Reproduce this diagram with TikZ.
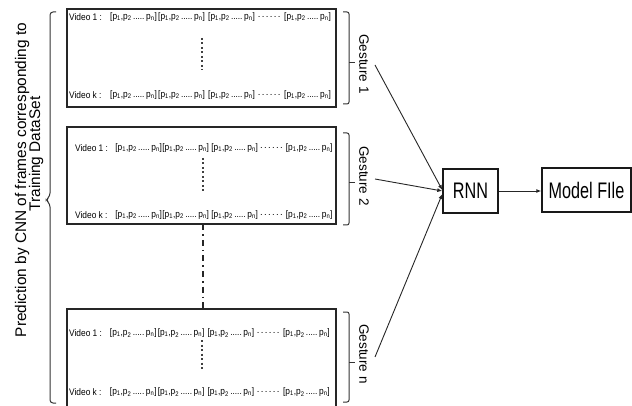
\documentclass[tikz,border=0pt]{standalone}
\usepackage{fontspec}
\setmainfont{Liberation Sans}
\usetikzlibrary{arrows.meta}

% one prediction vector [p1,p2 ... pn], fixed width, slightly condensed
\newcommand\pgroup{\scalebox{0.88}[1]{\hbox to 53pt{[p\textsubscript{1},p\textsubscript{2}\leaders\hbox to 2.6pt{\hss.\hss}\hfill p\textsubscript{n}]}}}
% dotted gap between the third and the last vector
\newcommand\pgap{\hbox to 24pt{\leaders\hbox to 4pt{\hss.\hss}\hfill}}

% one row of a gesture box: name, left x, y, label, spacing factor
\newcommand\vrow[5]{%
  \node[rowtxt] (#1-lab) at (#2,#3) {\scalebox{0.88}[1]{#4}};
  \node[rowtxt] (#1-a) at ({#2+41*#5},#3) {\pgroup};
  \node[rowtxt] (#1-b) at ({#2+89*#5},#3) {\pgroup};
  \node[rowtxt] (#1-c) at ({#2+139*#5},#3) {\pgroup};
  \node[rowtxt] (#1-d) at ({#2+188*#5},#3) {\pgap};
  \node[rowtxt] (#1-e) at ({#2+215*#5},#3) {\pgroup};
}

\tikzset{
  gbox/.style={draw=black!85, line width=1.4pt, minimum width=269pt, inner sep=0pt},
  rowtxt/.style={anchor=west, inner sep=0pt, font=\fontsize{9.5}{10}\selectfont},
  proc/.style={draw=black!90, line width=1.4pt, inner sep=0pt, minimum height=44pt,
               font=\fontsize{22.5}{22.5}\selectfont},
  brk/.style={draw=black!80, line width=1pt, rounded corners=2pt},
  vdots/.style={draw=black!75, line width=1.1pt, dash pattern=on 2pt off 2.5pt},
  dashdot/.style={draw=black!85, line width=1.1pt, dash pattern=on 6pt off 4pt on 1.5pt off 4pt},
  arr/.style={draw=black!85, line width=0.9pt, -{Latex[length=5pt,width=4pt]}},
  glabel/.style={rotate=-90, inner sep=0pt, font=\fontsize{13.5}{14}\selectfont},
  sidelabel/.style={rotate=90, anchor=base, inner sep=0pt, font=\fontsize{15.4}{16}\selectfont},
}

\begin{document}
\begin{tikzpicture}[x=1pt, y=-1pt]
\useasboundingbox (0,0) rectangle (632,406);
\clip (0,0) rectangle (632,406);

% gesture boxes
\node[gbox, minimum height=98pt] (box1) at (201.5,58) {};
\node[gbox, minimum height=97pt] (box2) at (201.5,175.5) {};
\node[gbox, minimum height=100pt] (box3) at (201.5,359) {};

% rows of predictions
\vrow{r1a}{69}{17}{Video 1 :}{1}
\vrow{r1b}{69}{95}{Video k :}{1}
\vrow{r2a}{75}{148}{Video 1 :}{0.98}
\vrow{r2b}{75}{215}{Video k :}{0.98}
\vrow{r3a}{69}{333}{Video 1 :}{0.995}
\vrow{r3b}{69}{392}{Video k :}{0.995}

% videos between 1 and k
\draw[vdots] (202,38) -- (202,70);
\draw[vdots] (203,158) -- (203,192);
\draw[vdots] (202,340) -- (202,370);

% further gestures between box 2 and box n
\draw[dashdot] (203,224.5) -- (203,308.5);

% right brackets grouping each gesture
\draw[brk] (343,12) -- (349,12) -- (349,104) -- (343,104);
\draw[brk] (349,63) -- (355,63);
\draw[brk] (343,133) -- (349,133) -- (349,225) -- (343,225);
\draw[brk] (349,183) -- (355,183);
\draw[brk] (343,312) -- (349,312) -- (349,402) -- (343,402);
\draw[brk] (349,362) -- (355,362);

\node[glabel] (g1lab) at (364,64) {Gesture 1};
\node[glabel] (g2lab) at (364,176) {Gesture 2};
\node[glabel] (gnlab) at (364,354) {Gesture n};

% left brace and its label
\draw[brk, rounded corners=3pt] (56,12) -- (50,12) -- (50,196) -- (46,200) -- (50,204) -- (50,403) -- (56,403);
\node[sidelabel] (cnnlab1) at (26,180) {Prediction by CNN of frames corresponding to};
\node[sidelabel] (cnnlab2) at (40,154) {Training DataSet};

% recurrent network and output
\node[proc, minimum width=55pt] (rnn) at (470.5,191) {\scalebox{0.72}[1]{RNN}};
\node[proc, minimum width=89pt] (model) at (586.5,190) {\scalebox{0.72}[1]{Model FIle}};

\coordinate (g1) at (375,65);
\coordinate (g2) at (375,179);
\coordinate (gn) at (375,357);
\draw[arr] (g1) -- ([yshift=1pt]rnn.west);
\draw[arr] (g2) -- (rnn.west);
\draw[arr] (gn) -- ([yshift=-3pt]rnn.west);
\draw[arr] (rnn.east) -- (model.west |- rnn.east);
\end{tikzpicture}
\end{document}
